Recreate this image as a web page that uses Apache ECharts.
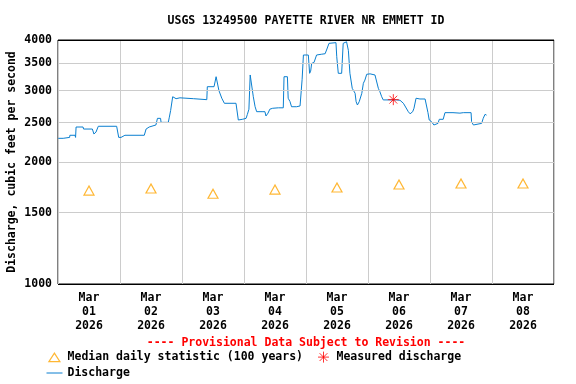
<!DOCTYPE html>
<html><head><meta charset="utf-8">
<script src="https://cdn.jsdelivr.net/npm/echarts@6/dist/echarts.min.js"></script>
<style>html,body{margin:0;padding:0;background:#fff}#c{width:576px;height:384px}</style>
</head><body><div id="c"></div>
<script>
const titleText = 'USGS 13249500 PAYETTE RIVER NR EMMETT ID';
const provisionalText = '---- Provisional Data Subject to Revision ----';
const yAxisTitle = 'Discharge, cubic feet per second';
const dayLabels = ['Mar\n01\n2026','Mar\n02\n2026','Mar\n03\n2026','Mar\n04\n2026','Mar\n05\n2026','Mar\n06\n2026','Mar\n07\n2026','Mar\n08\n2026'];
const yTicks = [1000, 1500, 2000, 2500, 3000, 3500, 4000];
const medianName = 'Median daily statistic (100 years)';
const medianValues = [1700, 1720, 1670, 1710, 1730, 1760, 1770, 1770];
const measuredName = 'Measured discharge';
const measuredHours = [129.8];
const measuredValues = [2850];
const dischargeName = 'Discharge';
// hours since Mar 01 00:00
const dischargeHours = [0.1, 2.0, 2.1, 4.5, 4.6, 6.6, 6.8, 7.0, 9.7, 9.9, 13.3, 13.9, 14.7, 15.6, 22.7, 23.0, 23.5, 24.4, 25.9, 33.4, 34.1, 35.3, 37.9, 38.5, 39.7, 39.9, 42.7, 43.1, 43.6, 44.4, 45.7, 47.2, 52.4, 52.6, 57.6, 57.8, 60.4, 61.2, 61.7, 62.3, 63.4, 64.4, 68.9, 69.8, 71.5, 72.8, 73.3, 73.9, 74.4, 74.8, 75.6, 76.3, 76.9, 78.2, 78.6, 79.0, 80.1, 80.5, 81.3, 82.0, 83.1, 85.3, 87.2, 87.5, 88.8, 89.1, 89.8, 90.4, 92.4, 93.7, 94.1, 94.5, 95.0, 96.9, 97.4, 97.8, 98.2, 99.1, 100.1, 102.1, 103.4, 104.1, 104.9, 107.6, 107.9, 108.5, 109.8, 110.4, 111.1, 111.7, 112.4, 113.0, 113.9, 115.0, 115.4, 115.9, 116.6, 117.6, 118.2, 118.8, 119.5, 120.8, 122.7, 123.4, 124.0, 124.6, 125.3, 125.9, 127.9, 128.1, 131.1, 132.4, 133.7, 134.3, 135.6, 136.3, 137.3, 137.8, 138.6, 140.1, 142.1, 142.7, 143.2, 143.7, 144.6, 145.5, 145.9, 147.1, 147.6, 149.1, 149.8, 152.9, 153.1, 153.3, 155.6, 156.9, 159.9, 160.1, 160.8, 161.4, 164.0, 164.6, 165.3, 165.9];
const dischargeValues = [2288, 2288, 2300, 2300, 2328, 2328, 2300, 2440, 2440, 2412, 2412, 2345, 2370, 2450, 2450, 2430, 2300, 2300, 2328, 2328, 2412, 2440, 2468, 2563, 2563, 2505, 2505, 2580, 2680, 2898, 2866, 2880, 2866, 2850, 2850, 3068, 3068, 3247, 3247, 3000, 2873, 2792, 2792, 2539, 2550, 2563, 2620, 2699, 3279, 3279, 2898, 2738, 2662, 2662, 2690, 2662, 2662, 2598, 2640, 2700, 2714, 2721, 2721, 3247, 3247, 2873, 2820, 2738, 2738, 2750, 2780, 3200, 3673, 3673, 3310, 3350, 3503, 3520, 3673, 3690, 3700, 3800, 3925, 3940, 3638, 3310, 3310, 3925, 3960, 3960, 3772, 3310, 3040, 2955, 2817, 2765, 2817, 2955, 3127, 3185, 3292, 3300, 3279, 3279, 3040, 2982, 2898, 2846, 2846, 2873, 2846, 2840, 2792, 2765, 2662, 2630, 2662, 2714, 2873, 2861, 2861, 2850, 2650, 2539, 2515, 2468, 2491, 2491, 2549, 2549, 2647, 2647, 2665, 2647, 2640, 2647, 2647, 2515, 2468, 2491, 2491, 2563, 2622, 2610];

const FONT = '"DejaVu Sans Mono", monospace';
const FS = 11.5;
const txt = (c) => ({fontFamily: FONT, fontWeight: 'bold', fontSize: FS, color: c || '#000'});
const BLUE = '#0a7fd0';
const ORANGE = '#ffa500';
const ASTERISK = 'path://M0,5.5L11,5.5M5.5,0L5.5,11M1.6,1.6L9.4,9.4M9.4,1.6L1.6,9.4';
const TRI_ICON = 'path://M0,0M16,11M7.8,1.5L13.3,10L2.3,10Z';
const AST_ICON = 'path://M0,0M16,11M2.5,5.5L13.5,5.5M8,0L8,11M4.1,1.6L11.9,9.4M11.9,1.6L4.1,9.4';
const LINE_ICON = 'path://M0,0M16,11M0,5.5L16,5.5';

const chart = echarts.init(document.getElementById('c'));
chart.setOption({
  animation: false,
  backgroundColor: '#fff',
  graphic: [
    {type: 'text', x: 306, y: 21, style: {text: titleText, align: 'center', verticalAlign: 'middle', font: 'bold 11.5px "DejaVu Sans Mono"', fill: '#000'}},
    {type: 'text', x: 306, y: 343, style: {text: provisionalText, align: 'center', verticalAlign: 'middle', font: 'bold 11.5px "DejaVu Sans Mono"', fill: '#f00'}}
  ],
  grid: {left: 58, right: 22, top: 40, bottom: 100, outerBoundsMode: 'none', containLabel: false,
         show: true, borderColor: '#000', borderWidth: 1, backgroundColor: 'transparent'},
  legend: [
    {data: [
       {name: medianName, icon: TRI_ICON, itemStyle: {color: '#fff', borderColor: ORANGE, borderWidth: 1.2}},
       {name: measuredName, icon: AST_ICON, itemStyle: {color: '#f00', borderColor: '#f00', borderWidth: 1}}],
     left: 46, top: 351, itemWidth: 16, itemHeight: 11, itemGap: 12, padding: 0, selectedMode: false, textStyle: txt()},
    {data: [{name: dischargeName, icon: LINE_ICON, itemStyle: {color: BLUE, borderColor: BLUE, borderWidth: 1}}],
     left: 46, top: 367, itemWidth: 16, itemHeight: 11, padding: 0, selectedMode: false, textStyle: txt()}
  ],
  xAxis: [
    {type: 'category', data: dayLabels, boundaryGap: true,
     axisLine: {show: false}, axisTick: {show: false},
     splitLine: {show: true, interval: 0, lineStyle: {color: '#cccccc', width: 1}},
     axisLabel: Object.assign({interval: 0, lineHeight: 14, margin: 7}, txt())},
    {type: 'value', min: 0, max: 192, show: false}
  ],
  yAxis: {type: 'log', min: 1000, max: 4000,
    axisLine: {show: false}, axisTick: {show: false}, axisLabel: {show: false},
    splitLine: {show: false}, minorSplitLine: {show: false},
    name: yAxisTitle, nameLocation: 'middle', nameGap: 40, nameRotate: 90, nameTextStyle: txt()},
  series: [
    {name: medianName, type: 'scatter', xAxisIndex: 0, data: medianValues, z: 2,
     symbol: 'triangle', symbolSize: [10, 9],
     itemStyle: {color: '#fff', borderColor: ORANGE, borderWidth: 1.2},
     markLine: {silent: true, symbol: ['none', 'none'], animation: false,
       lineStyle: {color: '#cccccc', width: 1, type: 'solid'},
       label: Object.assign({position: 'start', distance: 6, formatter: (p) => String(p.value)}, txt()),
       emphasis: {disabled: true},
       data: yTicks.map(v => ({yAxis: v, lineStyle: {color: (v === 1000 || v === 4000) ? '#000' : '#cccccc'}}))}},
    {name: dischargeName, type: 'line', xAxisIndex: 1, z: 3, symbol: 'none', showSymbol: false,
     lineStyle: {color: BLUE, width: 1}, itemStyle: {color: BLUE},
     data: dischargeHours.map((h, i) => [h, dischargeValues[i]])},
    {name: measuredName, type: 'scatter', xAxisIndex: 1, z: 4, symbol: ASTERISK, symbolSize: 11,
     itemStyle: {color: '#f00', borderColor: '#f00', borderWidth: 1},
     data: measuredHours.map((h, i) => [h, measuredValues[i]])}
  ]
});
</script></body></html>
